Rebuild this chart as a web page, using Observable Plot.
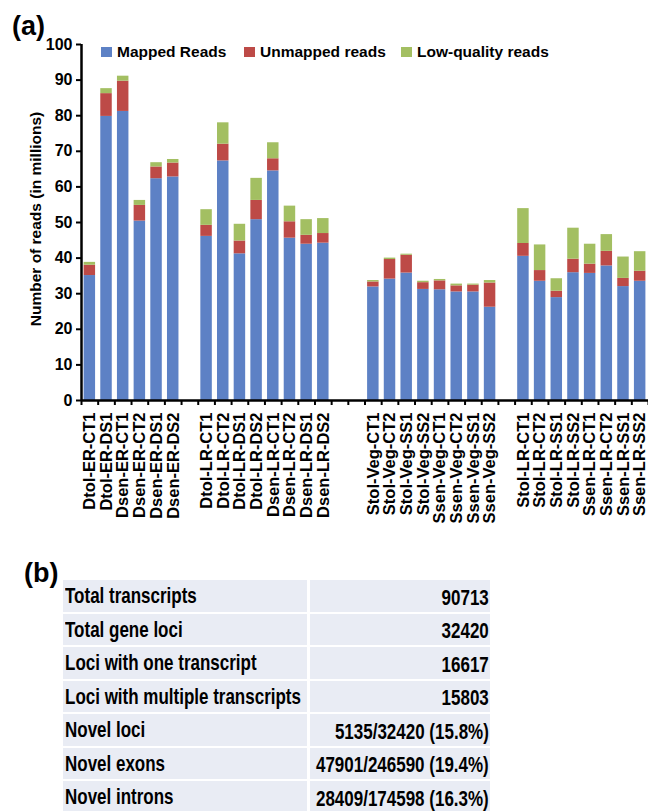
<!DOCTYPE html>
<html><head><meta charset="utf-8">
<script src="https://cdn.jsdelivr.net/npm/d3@7"></script>
<script src="https://cdn.jsdelivr.net/npm/@observablehq/plot@0.6"></script>
<style>
body{margin:0;background:#fff;font-family:"Liberation Sans",Arial,sans-serif;color:#000;}
#wrap{position:relative;width:648px;height:811px;overflow:hidden;background:#fff;}
#chart{position:absolute;left:0;top:0;}
.panel{position:absolute;font-weight:bold;font-size:27px;line-height:27px;}
.legend{position:absolute;top:44px;left:0;height:16px;font-weight:bold;font-size:15.5px;line-height:16px;white-space:nowrap;}
.legend .item{position:absolute;top:0;}
.legend .sw{position:absolute;top:2.5px;width:10.5px;height:10.5px;}
.legend .lab{position:absolute;left:16px;top:0;}
.ytitle{position:absolute;left:36px;top:219px;transform:translate(-50%,-50%) rotate(-90deg);font-weight:bold;font-size:15.5px;white-space:nowrap;}
.cell{position:absolute;height:31.5px;background:#e9ecf4;overflow:visible;}
.cell span{position:absolute;font-weight:bold;font-size:21.5px;line-height:21.5px;white-space:nowrap;}
.cl span{left:2px;top:6.2px;transform:scaleX(0.79);transform-origin:left center;}
.cr span{right:1px;top:7.6px;transform:scaleX(0.79);transform-origin:right center;}
</style></head>
<body><div id="wrap"><div id="chart"></div></div>
<script>
// ---------- data ----------
const categories = [
  "Dtol-ER-CT1","Dtol-ER-DS1","Dsen-ER-CT1","Dsen-ER-CT2","Dsen-ER-DS1","Dsen-ER-DS2",
  "",
  "Dtol-LR-CT1","Dtol-LR-CT2","Dtol-LR-DS1","Dtol-LR-DS2","Dsen-LR-CT1","Dsen-LR-CT2","Dsen-LR-DS1","Dsen-LR-DS2",
  "","",
  "Stol-Veg-CT1","Stol-Veg-CT2","Stol-Veg-SS1","Stol-Veg-SS2","Ssen-Veg-CT1","Ssen-Veg-CT2","Ssen-Veg-SS1","Ssen-Veg-SS2",
  "",
  "Stol-LR-CT1","Stol-LR-CT2","Stol-LR-SS1","Stol-LR-SS2","Ssen-LR-CT1","Ssen-LR-CT2","Ssen-LR-SS1","Ssen-LR-SS2"
];
const mappedReads = [
  35.1, 79.8, 81.2, 50.4, 62.3, 62.8,
  46.1, 67.3, 41.2, 50.8, 64.5, 45.6, 43.9, 44.2,
  31.9, 34.1, 35.8, 31.2, 31.1, 30.5, 30.5, 26.2,
  40.5, 33.5, 28.9, 35.9, 35.7, 37.8, 32.0, 33.5
];
const unmappedReads = [
  2.9, 6.4, 8.5, 4.4, 3.3, 3.9,
  3.1, 4.7, 3.6, 5.4, 3.4, 4.6, 2.5, 2.7,
  1.4, 5.5, 5.0, 1.9, 2.5, 1.7, 1.9, 6.8,
  3.6, 3.0, 1.8, 3.8, 2.6, 4.1, 2.3, 2.8
];
const lowQualityReads = [
  0.8, 1.4, 1.4, 1.4, 1.2, 1.0,
  4.4, 6.0, 4.7, 6.2, 4.5, 4.4, 4.4, 4.2,
  0.4, 0.4, 0.3, 0.4, 0.4, 0.5, 0.3, 0.7,
  9.8, 7.2, 3.5, 8.7, 5.6, 4.7, 6.0, 5.5
];
const seriesNames = ["Mapped Reads", "Unmapped reads", "Low-quality reads"];
const seriesColors = ["#5d81c5", "#bd4a47", "#a3bf62"];
const yTicks = [0, 10, 20, 30, 40, 50, 60, 70, 80, 90, 100];
const yTitle = "Number of reads (in millions)";

const tableLabels = ["Total transcripts", "Total gene loci", "Loci with one transcript",
  "Loci with multiple transcripts", "Novel loci", "Novel exons", "Novel introns"];
const tableValues = ["90713", "32420", "16617", "15803",
  "5135/32420 (15.8%)", "47901/246590 (19.4%)", "28409/174598 (16.3%)"];

// ---------- build table for Plot ----------
const seriesValues = [mappedReads, unmappedReads, lowQualityReads];
const rows = [];
const labelRows = [];
let k = 0;
categories.forEach((name, slot) => {
  if (!name) return;
  let base = 0;
  seriesValues.forEach((arr, s) => {
    rows.push({slot, name, series: seriesNames[s], y1: base, y2: base + arr[k]});
    base += arr[k];
  });
  labelRows.push({slot, name});
  k++;
});
const slotEdges = categories.map((_, i) => i).concat([categories.length]);

const chart = Plot.plot({
  width: 648, height: 520,
  marginLeft: 81, marginRight: 0, marginTop: 44, marginBottom: 120,
  x: {domain: [0, categories.length]},
  y: {domain: [0, 100]},
  color: {domain: seriesNames, range: seriesColors},
  style: {fontFamily: "Liberation Sans, Arial, sans-serif", fontWeight: "bold", fontSize: "16px", color: "#000", background: "transparent", overflow: "visible"},
  marks: [
    Plot.rect(rows, {x1: "slot", x2: d => d.slot + 1, y1: "y1", y2: "y2", fill: "series", insetLeft: 2.6, insetRight: 2.6}),
    Plot.axisY({ticks: yTicks, tickSize: 5, tickPadding: 4, strokeWidth: 2, fontSize: 16, fontWeight: "bold", label: null}),
    Plot.axisX({ticks: slotEdges, tickSize: 5, tickFormat: () => "", strokeWidth: 2, label: null}),
    Plot.ruleX([0], {y1: 0, y2: 100, strokeWidth: 2.5, stroke: "#000"}),
    Plot.ruleY([0], {strokeWidth: 2.5, stroke: "#000"}),
    Plot.text(labelRows, {x: d => d.slot + 0.5, y: () => 0, text: "name", rotate: -90, textAnchor: "end", dy: 12, fontSize: 16.5, fontWeight: "bold", fill: "#000"})
  ]
});
const wrap = document.getElementById("wrap");
document.getElementById("chart").appendChild(chart);

// panel labels
function addDiv(cls, text, left, top) {
  const d = document.createElement("div");
  d.className = cls; d.textContent = text;
  if (left != null) d.style.left = left + "px";
  if (top != null) d.style.top = top + "px";
  wrap.appendChild(d);
  return d;
}
addDiv("panel", "(a)", 12, 13);
addDiv("panel", "(b)", 24, 560);
addDiv("ytitle", yTitle);

// legend
const legend = document.createElement("div");
legend.className = "legend";
const legendX = [101, 244, 401];
seriesNames.forEach((n, i) => {
  const it = document.createElement("div");
  it.className = "item"; it.style.left = legendX[i] + "px";
  const sw = document.createElement("div"); sw.className = "sw"; sw.style.background = seriesColors[i];
  const lb = document.createElement("div"); lb.className = "lab"; lb.textContent = n;
  it.appendChild(sw); it.appendChild(lb); legend.appendChild(it);
});
wrap.appendChild(legend);

// table (b)
tableLabels.forEach((lab, i) => {
  const top = 580 + i * 33.5;
  const c1 = document.createElement("div");
  c1.className = "cell cl"; c1.style.left = "63px"; c1.style.width = "244px"; c1.style.top = top + "px";
  const s1 = document.createElement("span"); s1.textContent = lab; c1.appendChild(s1);
  const c2 = document.createElement("div");
  c2.className = "cell cr"; c2.style.left = "310px"; c2.style.width = "180px"; c2.style.top = top + "px";
  const s2 = document.createElement("span"); s2.textContent = tableValues[i]; c2.appendChild(s2);
  wrap.appendChild(c1); wrap.appendChild(c2);
});
</script></body></html>
